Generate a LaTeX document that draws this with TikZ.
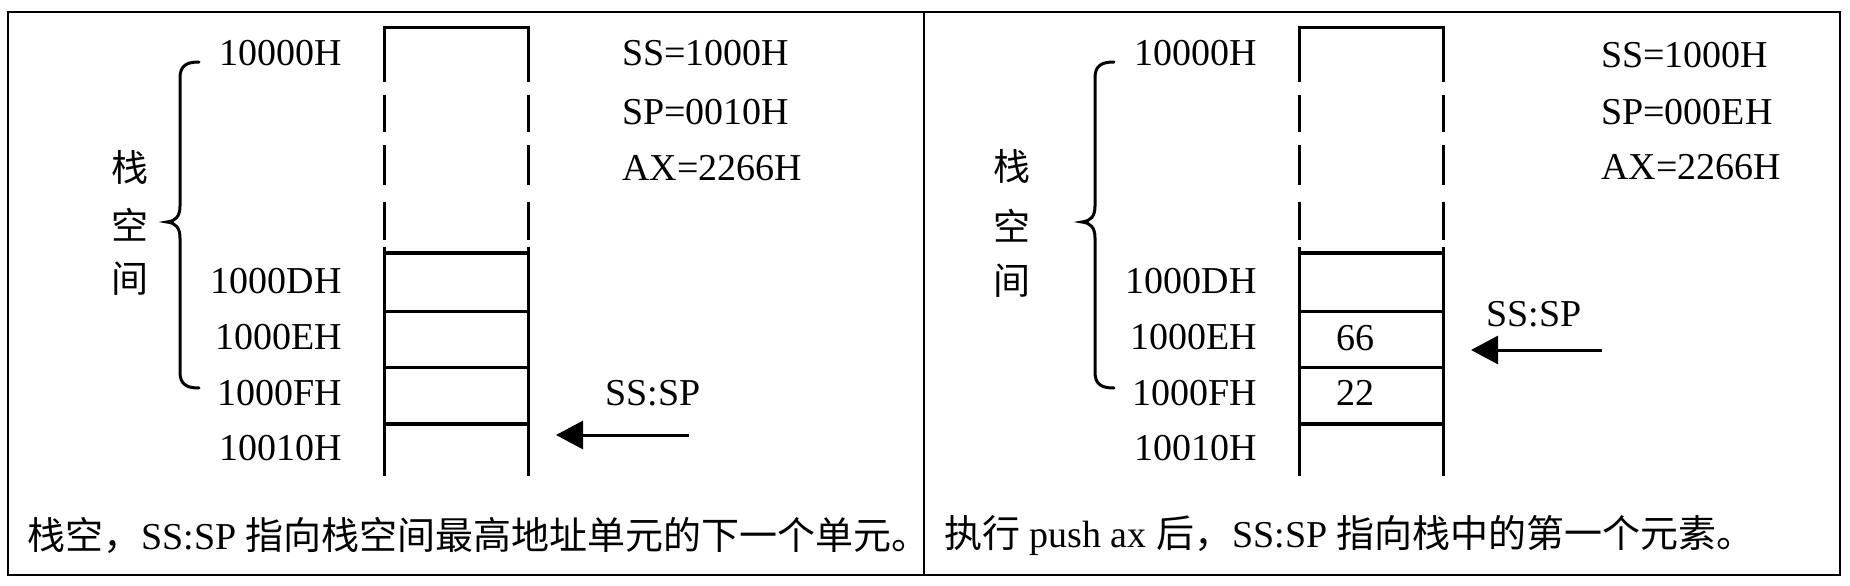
\documentclass[tikz,border=0pt]{standalone}
\usepackage{fontspec}
\setmainfont{Liberation Serif}
\newfontfamily\cjk{Noto Sans CJK SC}
\usetikzlibrary{arrows.meta}
\tikzset{
  cellline/.style={line width=3pt},
  thickline/.style={line width=4.5pt},
  curly/.style={line width=3pt,line cap=round},
  lbl/.style={font=\fontsize{38}{40}\selectfont,inner sep=0pt},
  hz/.style={font=\fontsize{37}{40}\selectfont\cjk,inner sep=0pt},
  ptr/.style={line width=3pt,-{Triangle[length=27pt,width=28pt]}},
}
\begin{document}
\begin{tikzpicture}[x=1pt,y=-1pt]
\useasboundingbox (0,0) rectangle (1850,586);
\draw[line width=2.5pt] (8,12) rectangle (1840,575);
\draw[line width=2.5pt] (924,12) -- (924,575);

% left: empty stack
\draw[cellline] (384,82) |- (528,28) -- (528,82);
\draw[cellline] (384,95)--(384,132) (384,145)--(384,185) (384,202)--(384,240);
\draw[cellline] (528,95)--(528,132) (528,145)--(528,185) (528,202)--(528,240);
\draw[cellline] (384,247)--(384,476) (528,247)--(528,476);
\draw[thickline] (384,253)--(528,253) (384,424)--(528,424);
\draw[cellline] (384,311)--(528,311) (384,367)--(528,367);
\draw[curly] (199,62) .. controls (186,62) and (180,66) .. (180,78) -- (180,206)
  .. controls (180,216) and (176,221) .. (167,222) .. controls (176,223) and (180,228) .. (180,238)
  -- (180,372) .. controls (180,384) and (186,388) .. (199,388);
\node[hz] (zhanL) at (130,167) {栈};
\node[hz] (kongL) at (130,225) {空};
\node[hz] (jianL) at (130,279) {间};
\node[lbl,anchor=east] (a0L) at (342,53) {10000H};
\node[lbl,anchor=east] (aDL) at (342,281) {1000DH};
\node[lbl,anchor=east] (aEL) at (342,337) {1000EH};
\node[lbl,anchor=east] (aFL) at (342,393) {1000FH};
\node[lbl,anchor=east] (a10L) at (342,448) {10010H};
\node[lbl,anchor=west] (ssL) at (622,53) {SS=1000H};
\node[lbl,anchor=west] (spL) at (622,112) {SP=0010H};
\node[lbl,anchor=west] (axL) at (622,168) {AX=2266H};
\node[lbl] (ptrL) at (653,393) {SS:SP};
\coordinate (tailL) at (689,435);
\coordinate (tipL) at (556,435);
\draw[ptr] (tailL) -- (tipL);
\node[lbl,anchor=west] (capL) at (27,535) {{\cjk 栈空，}SS:SP {\cjk 指向栈空间最高地址单元的下一个单元。}};

% right: after push ax
\draw[cellline] (1299,82) |- (1443,28) -- (1443,82);
\draw[cellline] (1299,95)--(1299,132) (1299,145)--(1299,185) (1299,202)--(1299,240);
\draw[cellline] (1443,95)--(1443,132) (1443,145)--(1443,185) (1443,202)--(1443,240);
\draw[cellline] (1299,247)--(1299,476) (1443,247)--(1443,476);
\draw[thickline] (1299,253)--(1443,253) (1299,424)--(1443,424);
\draw[cellline] (1299,311)--(1443,311) (1299,367)--(1443,367);
\draw[curly] (1114,62) .. controls (1101,62) and (1095,66) .. (1095,78) -- (1095,206)
  .. controls (1095,216) and (1091,221) .. (1082,222) .. controls (1091,223) and (1095,228) .. (1095,238)
  -- (1095,372) .. controls (1095,384) and (1101,388) .. (1114,388);
\node[hz] (zhanR) at (1012,166) {栈};
\node[hz] (kongR) at (1012,226) {空};
\node[hz] (jianR) at (1012,281) {间};
\node[lbl,anchor=east] (a0R) at (1257,53) {10000H};
\node[lbl,anchor=east] (aDR) at (1257,281) {1000DH};
\node[lbl,anchor=east] (aER) at (1257,337) {1000EH};
\node[lbl,anchor=east] (aFR) at (1257,393) {1000FH};
\node[lbl,anchor=east] (a10R) at (1257,448) {10010H};
\node[lbl] (v66) at (1355,338) {66};
\node[lbl] (v22) at (1355,393) {22};
\node[lbl,anchor=west] (ssR) at (1601,55) {SS=1000H};
\node[lbl,anchor=west] (spR) at (1601,112) {SP=000EH};
\node[lbl,anchor=west] (axR) at (1601,167) {AX=2266H};
\node[lbl] (ptrR) at (1534,314) {SS:SP};
\coordinate (tailR) at (1602,350);
\coordinate (tipR) at (1471,350);
\draw[ptr] (tailR) -- (tipR);
\node[lbl,anchor=west] (capR) at (944,535) {{\cjk 执行} push ax {\cjk 后，}SS:SP {\cjk 指向栈中的第一个元素。}};
\end{tikzpicture}
\end{document}
